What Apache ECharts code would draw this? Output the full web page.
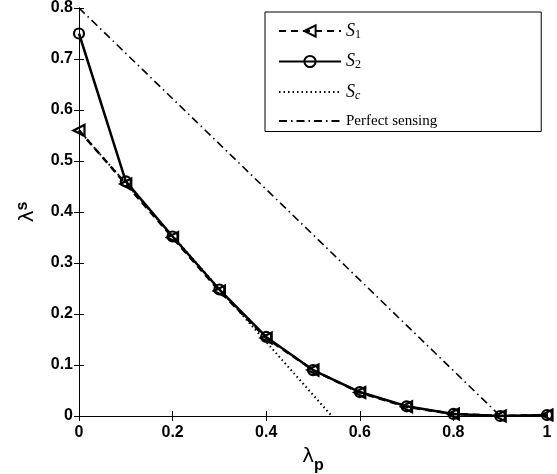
<!DOCTYPE html>
<html><head><meta charset="utf-8">
<script src="https://cdn.jsdelivr.net/npm/echarts@6/dist/echarts.min.js"></script>
<style>html,body{margin:0;padding:0;background:#fff}#c{width:557px;height:474px}</style>
</head><body><div id="c"></div>
<script>
var lambdaP = [0, 0.1, 0.2, 0.3, 0.4, 0.5, 0.6, 0.7, 0.8, 0.9, 1.0];
var s1 = [0.56, 0.455, 0.35, 0.245, 0.153, 0.09, 0.046, 0.018, 0.004, 0.0, 0.002];
var s2 = [0.75, 0.46, 0.352, 0.248, 0.155, 0.09, 0.047, 0.019, 0.004, 0.0, 0.002];
var scX = [0, 0.54];
var scY = [0.56, 0];
var perfX = [0, 0.9];
var perfY = [0.8, 0];
var xTicks = [0, 0.2, 0.4, 0.6, 0.8, 1];
var yTicks = [0, 0.1, 0.2, 0.3, 0.4, 0.5, 0.6, 0.7, 0.8];

function zip(a, b) { return a.map(function (v, i) { return [v, b[i]]; }); }

var chart = echarts.init(document.getElementById('c'));
var axisLine = { show: true, lineStyle: { color: '#000', width: 1 } };
var tick = { show: true, inside: true, length: 5, lineStyle: { color: '#000' } };
var lblFont = { color: '#000', fontFamily: 'Liberation Sans', fontWeight: 'bold', fontSize: 16 };

chart.setOption({
  animation: false,
  backgroundColor: '#fff',
  grid: { left: 79, right: 10, top: 8, bottom: 58, containLabel: false, outerBoundsMode: 'none' },
  xAxis: [{
    type: 'value', min: 0, max: 1, interval: 0.2, position: 'bottom',
    axisLine: axisLine, axisTick: tick, splitLine: { show: false },
    axisLabel: Object.assign({ margin: 9, formatter: function (v) { return String(+v.toFixed(1)); } }, lblFont),
    name: '{a|λ}{b|p}', nameLocation: 'middle', nameGap: 24,
    nameTextStyle: { rich: {
      a: { fontSize: 20, fontFamily: 'DejaVu Sans', color: '#000', lineHeight: 24 },
      b: { fontSize: 16, fontFamily: 'Liberation Sans', fontWeight: 'bold', color: '#000', padding: [18, 0, 0, 0] }
    } }
  }, {
    type: 'value', min: 0, max: 1, interval: 0.2, position: 'top',
    axisLine: axisLine, axisTick: tick, axisLabel: { show: false }, splitLine: { show: false }
  }],
  yAxis: [{
    type: 'value', min: 0, max: 0.8, interval: 0.1, position: 'left',
    axisLine: axisLine, axisTick: tick, splitLine: { show: false },
    axisLabel: Object.assign({ margin: 6, formatter: function (v) { return String(+v.toFixed(1)); } }, lblFont),
    name: '{a|λ}{b|s}', nameLocation: 'middle', nameGap: 38,
    nameTextStyle: { rich: {
      a: { fontSize: 20, fontFamily: 'DejaVu Sans', color: '#000', lineHeight: 24 },
      b: { fontSize: 16, fontFamily: 'Liberation Sans', fontWeight: 'bold', color: '#000', padding: [0, 0, 10, 0] }
    } }
  }, {
    type: 'value', min: 0, max: 0.8, interval: 0.1, position: 'right',
    axisLine: axisLine, axisTick: tick, axisLabel: { show: false }, splitLine: { show: false }
  }],
  legend: {
    orient: 'vertical', left: 265, top: 12,
    backgroundColor: '#fff', borderColor: '#000', borderWidth: 1, borderRadius: 0,
    padding: [10, 104, 3, 13], itemWidth: 62, itemHeight: 14, itemGap: 12,
    data: [
      { name: 'S1' },
      { name: 'S2' },
      { name: 'Sc', itemStyle: { color: 'transparent', borderWidth: 0 } },
      { name: 'Perfect sensing', itemStyle: { color: 'transparent', borderWidth: 0 } }
    ],
    formatter: function (n) {
      if (n === 'S1') return '{i|S}{s|1}';
      if (n === 'S2') return '{i|S}{s|2}';
      if (n === 'Sc') return '{i|S}{si|c}';
      return '{t|Perfect sensing}';
    },
    textStyle: { color: '#000', rich: {
      i: { fontFamily: 'Liberation Serif', fontStyle: 'italic', fontSize: 18, color: '#000' },
      s: { fontFamily: 'Liberation Serif', fontSize: 12, color: '#000', padding: [7, 0, 0, 0] },
      si: { fontFamily: 'Liberation Serif', fontStyle: 'italic', fontSize: 12, color: '#000', padding: [7, 0, 0, 0] },
      t: { fontFamily: 'Liberation Serif', fontSize: 15, color: '#000' }
    } }
  },
  series: [{
    name: 'Perfect sensing', type: 'line', data: zip(perfX, perfY), symbol: 'none',
    lineStyle: { color: '#000', width: 1.6, type: [8, 4, 1.5, 4] }, itemStyle: { color: 'transparent' }, z: 2
  }, {
    name: 'Sc', type: 'line', data: zip(scX, scY), symbol: 'none',
    lineStyle: { color: '#000', width: 2, type: [1.5, 3] }, itemStyle: { color: 'transparent' }, z: 2
  }, {
    name: 'S1', type: 'line', data: zip(lambdaP, s1),
    symbol: 'triangle', symbolSize: 11, symbolRotate: 90,
    lineStyle: { color: '#000', width: 2.5, type: [7, 5] },
    itemStyle: { color: 'transparent', borderColor: '#000', borderWidth: 2.2 }, z: 3
  }, {
    name: 'S2', type: 'line', data: zip(lambdaP, s2),
    symbol: 'circle', symbolSize: 10,
    lineStyle: { color: '#000', width: 2.5 },
    itemStyle: { color: 'transparent', borderColor: '#000', borderWidth: 2.2 }, z: 4
  }]
});
</script></body></html>
